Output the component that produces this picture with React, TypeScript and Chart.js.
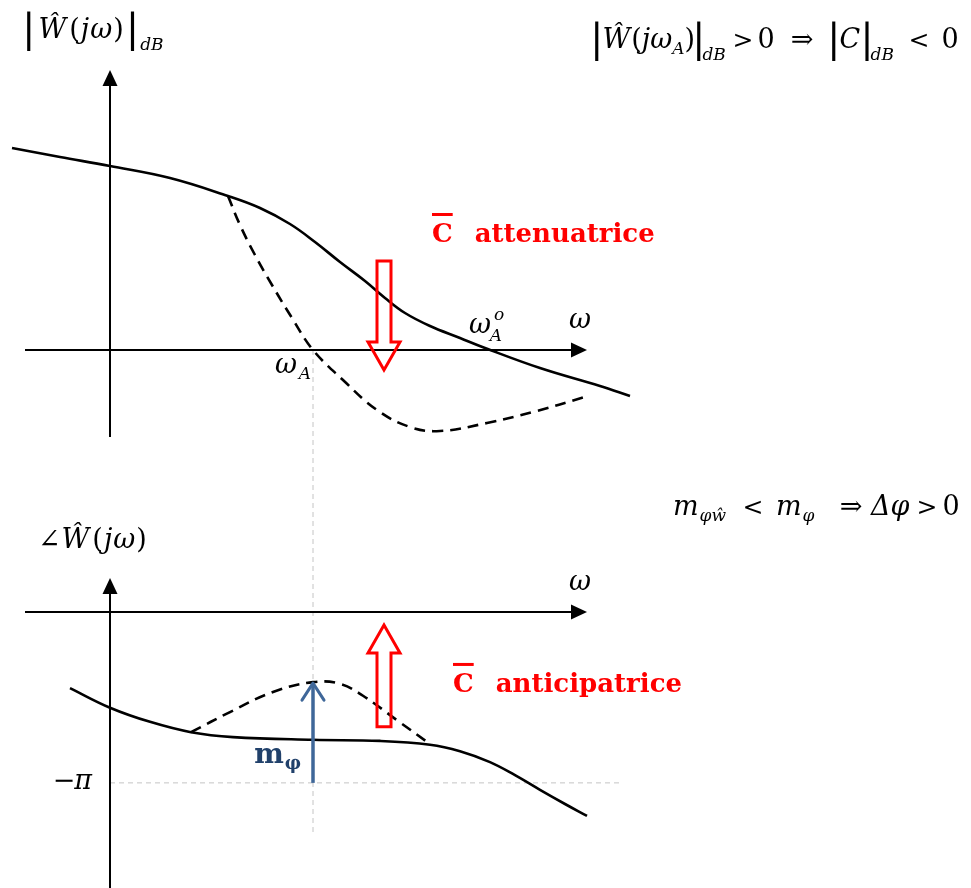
import React, { useEffect, useRef } from 'react';
import { Chart, registerables } from 'chart.js';

Chart.register(...registerables);

// ---- Bode magnitude (dB) of the open loop W(jω) and of the compensated loop ----
const magOmega = [-0.98, -0.5, 0, 0.6, 1.18, 1.5, 1.8, 2.05, 2.3, 2.55, 2.75, 2.95, 3.2, 3.5, 3.75, 4.3, 4.9, 5.2];
const magDb = [20.2, 19.3, 18.4, 17.2, 15.4, 14.2, 12.6, 10.8, 8.8, 6.9, 5.2, 3.7, 2.4, 1.2, 0.2, -1.8, -3.6, -4.6];
const magCompOmega = [1.18, 1.3, 1.45, 1.62, 1.82, 2.03, 2.33, 2.67, 3.0, 3.3, 3.77, 4.23, 4.75];
const magCompDb = [15.4, 12.5, 9.5, 6.5, 3.2, 0, -3.0, -6.0, -7.7, -8.1, -7.3, -6.2, -4.7];

// ---- Bode phase (rad) ----
const phaseOmega = [-0.4, 0, 0.4, 0.81, 1.23, 2.03, 2.7, 3.2, 3.5, 3.8, 4.05, 4.3, 4.55, 4.77];
const phaseRad = [-1.4, -1.76, -2.02, -2.21, -2.3, -2.35, -2.37, -2.44, -2.56, -2.76, -3.0, -3.27, -3.53, -3.75];
const phaseCompOmega = [0.81, 1.2, 1.63, 2.03, 2.3, 2.53, 2.87, 3.21];
const phaseCompRad = [-2.21, -1.84, -1.47, -1.29, -1.32, -1.54, -1.99, -2.44];

// crossover of the compensated loop and its phase margin peak
const omegaA = 2.03;
const phaseAtOmegaA = phaseCompRad[3];
const minusPi = -Math.PI;

// view window of the diagram
const X_MIN = -1.1;
const X_MAX = 8.61;
const MAG_MIN = -53.8;
const MAG_MAX = 35;
const PH_MIN = -5.074;
const PH_MAX = 11.25;

const SERIF = '"DejaVu Serif"';
const MI = `italic 27px ${SERIF}`;
const MR = `27px ${SERIF}`;
const REL = `25px ${SERIF}`;
const BAR = `40px ${SERIF}`;
const SUB = `italic 17px ${SERIF}`;

// one piece of a formula: placed by centre (c), by left edge (x), or flowing after the previous piece
type Glyph = { t: string; f: string; c?: number; x?: number; dx?: number; dy?: number };

function drawFormula(ctx: CanvasRenderingContext2D, x0: number, y: number, glyphs: Glyph[], color = '#000') {
  let cur = x0;
  ctx.textAlign = 'left';
  ctx.textBaseline = 'alphabetic';
  ctx.fillStyle = color;
  for (const g of glyphs) {
    ctx.font = g.f;
    const w = ctx.measureText(g.t).width;
    let left: number;
    if (g.c !== undefined) left = x0 + g.c - w / 2;
    else if (g.x !== undefined) left = x0 + g.x;
    else left = cur + (g.dx ?? 0);
    ctx.fillText(g.t, left, y + (g.dy ?? 0));
    cur = left + w;
  }
}

function axisArrow(ctx: CanvasRenderingContext2D, x1: number, y1: number, x2: number, y2: number) {
  const len = 16;
  const half = 7.5;
  const d = Math.hypot(x2 - x1, y2 - y1);
  const ux = (x2 - x1) / d;
  const uy = (y2 - y1) / d;
  ctx.strokeStyle = '#000';
  ctx.lineWidth = 2;
  ctx.setLineDash([]);
  ctx.beginPath();
  ctx.moveTo(x1, y1);
  ctx.lineTo(x2 - ux * len * 0.6, y2 - uy * len * 0.6);
  ctx.stroke();
  ctx.fillStyle = '#000';
  ctx.beginPath();
  ctx.moveTo(x2, y2);
  ctx.lineTo(x2 - ux * len - uy * half, y2 - uy * len + ux * half);
  ctx.lineTo(x2 - ux * len + uy * half, y2 - uy * len - ux * half);
  ctx.closePath();
  ctx.fill();
}

function hollowArrow(ctx: CanvasRenderingContext2D, cx: number, yTail: number, yTip: number) {
  const dir = Math.sign(yTip - yTail);
  const head = 28;
  const sw = 7;
  const hw = 16;
  const yBase = yTip - dir * head;
  ctx.beginPath();
  ctx.moveTo(cx - sw, yTail);
  ctx.lineTo(cx + sw, yTail);
  ctx.lineTo(cx + sw, yBase);
  ctx.lineTo(cx + hw, yBase);
  ctx.lineTo(cx, yTip);
  ctx.lineTo(cx - hw, yBase);
  ctx.lineTo(cx - sw, yBase);
  ctx.closePath();
  ctx.setLineDash([]);
  ctx.strokeStyle = '#FF0000';
  ctx.lineWidth = 3;
  ctx.lineJoin = 'miter';
  ctx.stroke();
}

function redLabel(ctx: CanvasRenderingContext2D, x: number, y: number, word: string) {
  ctx.font = `bold 26px ${SERIF}`;
  ctx.fillStyle = '#FF0000';
  ctx.textAlign = 'left';
  ctx.textBaseline = 'alphabetic';
  ctx.fillText('C', x, y);
  const w = ctx.measureText('C').width;
  ctx.fillRect(x, y - 29, w, 3);
  ctx.fillText(word, x + w + 22, y);
}

const diagramPlugin = {
  id: 'bodeDiagram',
  beforeDatasetsDraw(chart: Chart) {
    const ctx = chart.ctx;
    const xs = chart.scales.x;
    const ym = chart.scales.yMag;
    const yp = chart.scales.yPh;
    ctx.save();

    // light guide lines: ω_A down to the phase plot, and the −π level
    ctx.strokeStyle = '#c4c4c4';
    ctx.lineWidth = 1;
    ctx.setLineDash([5, 4]);
    ctx.beginPath();
    ctx.moveTo(xs.getPixelForValue(omegaA), ym.getPixelForValue(0));
    ctx.lineTo(xs.getPixelForValue(omegaA), yp.getPixelForValue(-4.1));
    ctx.moveTo(xs.getPixelForValue(0), yp.getPixelForValue(minusPi));
    ctx.lineTo(xs.getPixelForValue(5.1), yp.getPixelForValue(minusPi));
    ctx.stroke();

    // magnitude axes
    axisArrow(ctx, xs.getPixelForValue(-0.85), ym.getPixelForValue(0), xs.getPixelForValue(4.77), ym.getPixelForValue(0));
    axisArrow(ctx, xs.getPixelForValue(0), ym.getPixelForValue(-8.7), xs.getPixelForValue(0), ym.getPixelForValue(28));
    // phase axes
    axisArrow(ctx, xs.getPixelForValue(-0.85), yp.getPixelForValue(0), xs.getPixelForValue(4.77), yp.getPixelForValue(0));
    axisArrow(ctx, xs.getPixelForValue(0), yp.getPixelForValue(PH_MIN), xs.getPixelForValue(0), yp.getPixelForValue(0.625));
    ctx.restore();
  },
  afterDatasetsDraw(chart: Chart) {
    const ctx = chart.ctx;
    const xs = chart.scales.x;
    const ym = chart.scales.yMag;
    const yp = chart.scales.yPh;
    const X = (v: number) => xs.getPixelForValue(v);
    const M = (v: number) => ym.getPixelForValue(v);
    const P = (v: number) => yp.getPixelForValue(v);
    ctx.save();

    // compensator action arrows
    hollowArrow(ctx, X(2.74), M(8.9), M(-2.0));
    hollowArrow(ctx, X(2.74), P(-2.11), P(-0.24));

    // phase margin arrow
    const bx = X(omegaA);
    const tipY = P(phaseAtOmegaA);
    ctx.setLineDash([]);
    ctx.strokeStyle = '#3F6799';
    ctx.lineWidth = 3.5;
    ctx.lineCap = 'butt';
    ctx.beginPath();
    ctx.moveTo(bx, P(minusPi));
    ctx.lineTo(bx, tipY + 1);
    ctx.stroke();
    ctx.lineWidth = 3;
    ctx.lineJoin = 'round';
    ctx.lineCap = 'round';
    ctx.beginPath();
    ctx.moveTo(bx - 11, tipY + 18);
    ctx.lineTo(bx, tipY + 1);
    ctx.lineTo(bx + 11, tipY + 18);
    ctx.stroke();

    // axis titles
    drawFormula(ctx, X(-0.83), M(31.2), [
      { t: '|', f: BAR, x: -5, dy: 4 },
      { t: 'Ŵ', f: MI, dx: 3 },
      { t: '(', f: MR, dx: 3 },
      { t: 'j', f: MI, dx: 1 },
      { t: 'ω', f: MI, dx: 1 },
      { t: ')', f: MR, dx: 1 },
      { t: '|', f: BAR, dx: 2, dy: 4 },
      { t: 'dB', f: SUB, dx: 1, dy: 12 },
    ]);
    drawFormula(ctx, X(-0.72), P(1.18), [
      { t: '∠', f: MR, x: 0 },
      { t: 'Ŵ', f: MI, dx: 1 },
      { t: '(', f: MR, dx: 3 },
      { t: 'j', f: MI, dx: 1 },
      { t: 'ω', f: MI, dx: 1 },
      { t: ')', f: MR, dx: 1 },
    ]);
    drawFormula(ctx, X(4.6), M(2.2), [{ t: 'ω', f: MI, c: 10 }]);
    drawFormula(ctx, X(4.6), P(0.4), [{ t: 'ω', f: MI, c: 10 }]);

    // conditions
    drawFormula(ctx, X(4.82), M(30.2), [
      { t: '|', f: BAR, x: -2, dy: 4 },
      { t: 'Ŵ', f: MI, dx: -1 },
      { t: '(', f: MR, dx: 1 },
      { t: 'j', f: MI },
      { t: 'ω', f: MI },
      { t: 'A', f: SUB, dy: 6 },
      { t: ')', f: MR },
      { t: '|', f: BAR, dx: -3, dy: 4 },
      { t: 'dB', f: SUB, dx: -3, dy: 12 },
      { t: '>', f: REL, c: 151 },
      { t: '0', f: MR, c: 174 },
      { t: '⇒', f: MR, c: 210 },
      { t: '|', f: BAR, x: 235, dy: 4 },
      { t: 'C', f: MI, dx: -1 },
      { t: '|', f: BAR, dx: 0, dy: 4 },
      { t: 'dB', f: SUB, dx: -3, dy: 12 },
      { t: '<', f: REL, c: 327 },
      { t: '0', f: MR, c: 358 },
    ]);
    drawFormula(ctx, X(5.58), P(1.78), [
      { t: 'm', f: MI, x: 5 },
      { t: 'φŵ', f: SUB, dx: 1, dy: 6 },
      { t: '<', f: REL, c: 85 },
      { t: 'm', f: MI, x: 108 },
      { t: 'φ', f: SUB, dx: 1, dy: 6 },
      { t: '⇒', f: MR, c: 183 },
      { t: 'Δ', f: MI, x: 203 },
      { t: 'φ', f: MI },
      { t: '>', f: REL, c: 259 },
      { t: '0', f: MR, c: 283 },
    ]);

    // crossover labels
    drawFormula(ctx, X(1.65), M(-2.3), [
      { t: 'ω', f: MI, c: 11 },
      { t: 'A', f: SUB, c: 30, dy: 6 },
    ]);
    drawFormula(ctx, X(3.58), M(1.7), [
      { t: 'ω', f: MI, c: 12 },
      { t: 'o', f: SUB, c: 31, dy: -13 },
      { t: 'A', f: SUB, c: 28, dy: 8 },
    ]);

    // −π level
    drawFormula(ctx, X(-0.18), P(minusPi) + 6, [
      { t: '−', f: MR, c: -28 },
      { t: 'π', f: MI, c: -9 },
    ]);

    // phase margin label
    drawFormula(ctx, X(1.43), P(-2.78), [
      { t: 'm', f: `bold 28px ${SERIF}`, c: 16 },
      { t: 'φ', f: `bold 18px ${SERIF}`, c: 40, dy: 6 },
    ], '#21416B');

    // compensator labels
    redLabel(ctx, X(3.22), M(10.8), 'attenuatrice');
    redLabel(ctx, X(3.43), P(-1.47), 'anticipatrice');

    ctx.restore();
  },
};

const toPoints = (xs: number[], ys: number[]) => xs.map((x, i) => ({ x, y: ys[i] }));

export default function App() {
  const ref = useRef<HTMLCanvasElement>(null);

  useEffect(() => {
    const curve = (data: { x: number; y: number }[], axis: string, dashed: boolean) => ({
      data,
      yAxisID: axis,
      borderColor: '#000',
      borderWidth: 2.6,
      borderDash: dashed ? [11, 7] : [],
      pointRadius: 0,
      tension: 0.4,
      fill: false,
    });

    const chart = new Chart(ref.current!, {
      type: 'line',
      data: {
        datasets: [
          curve(toPoints(magOmega, magDb), 'yMag', false),
          curve(toPoints(magCompOmega, magCompDb), 'yMag', true),
          curve(toPoints(phaseOmega, phaseRad), 'yPh', false),
          curve(toPoints(phaseCompOmega, phaseCompRad), 'yPh', true),
        ],
      },
      options: {
        responsive: false,
        animation: false,
        events: [],
        layout: { padding: 0 },
        plugins: { legend: { display: false }, tooltip: { enabled: false } },
        scales: {
          x: { type: 'linear', min: X_MIN, max: X_MAX, display: false },
          yMag: { type: 'linear', min: MAG_MIN, max: MAG_MAX, display: false },
          yPh: { type: 'linear', min: PH_MIN, max: PH_MAX, display: false },
        },
      },
      plugins: [diagramPlugin],
    });
    return () => chart.destroy();
  }, []);

  return (
    <canvas
      ref={ref}
      width={971}
      height={888}
      style={{ position: 'absolute', left: 0, top: 0, display: 'block', background: '#fff' }}
    />
  );
}
